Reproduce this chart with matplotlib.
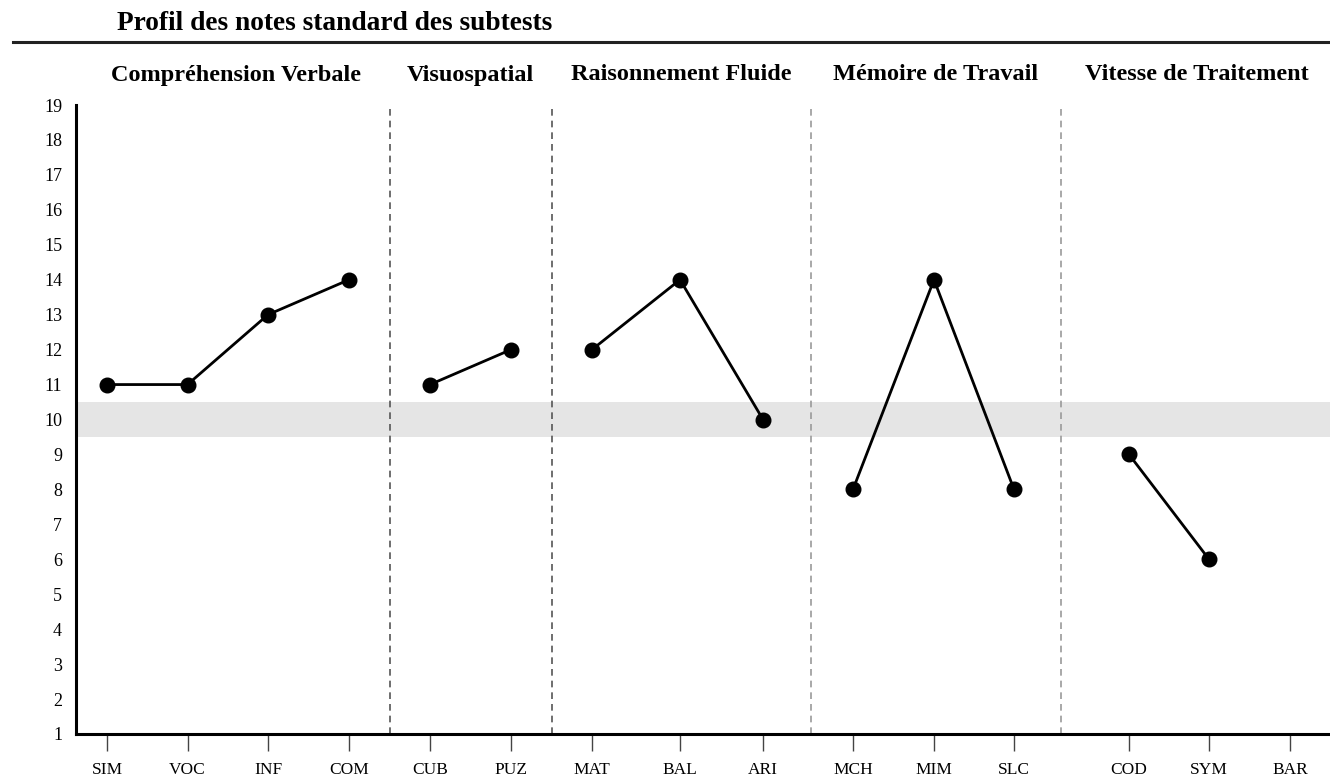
import matplotlib
matplotlib.use("Agg")
import matplotlib.pyplot as plt
import numpy as np

plt.rcParams['font.family'] = ['Liberation Serif', 'DejaVu Serif']

# subtests and scores
subtests = ["SIM", "VOC", "INF", "COM", "CUB", "PUZ", "MAT", "BAL", "ARI",
            "MCH", "MIM", "SLC", "COD", "SYM", "BAR"]
scores = [11, 11, 13, 14, 11, 12, 12, 14, 10, 8, 14, 8, 9, 6, np.nan]
groups = ["Compréhension Verbale", "Visuospatial", "Raisonnement Fluide",
          "Mémoire de Travail", "Vitesse de Traitement"]
group_sizes = [4, 2, 3, 3, 3]

# layout (x positions of each subtest, separators between groups)
xpos = [107, 187.5, 268, 349, 430, 511, 592, 680, 763, 853, 934, 1014, 1129, 1209, 1290]
seps = [390, 551.5, 811, 1061]
sep_colors = ["#555555", "#555555", "#9a9a9a", "#9a9a9a"]
header_x = [236, 470, 681, 936, 1197]

fig = plt.figure(figsize=(13.3, 7.81), dpi=100)
ax = fig.add_axes([76/1330, 1 - 734/781, 1 - 76/1330, (734 - 105)/781])

ax.axhspan(9.5, 10.5, color="#e5e5e5", zorder=0, lw=0)
for s, c in zip(seps, sep_colors):
    ax.axvline(s, color=c, ls=(0, (4, 3)), lw=1.2, zorder=1)

start = 0
for n in group_sizes:
    xs = xpos[start:start + n]
    ys = scores[start:start + n]
    ax.plot(xs, ys, color="black", lw=2, marker="o", ms=10.5, zorder=3)
    start += n

ax.set_xlim(76, 1330)
ax.set_ylim(1, 19)
ax.set_yticks(range(1, 20))
ax.set_xticks(xpos)
ax.set_xticklabels(subtests)
ax.tick_params(axis="y", length=0, labelsize=13, pad=10)
ax.tick_params(axis="x", length=12, width=1, color="#444444", labelsize=12.5, pad=8)
for side in ["top", "right"]:
    ax.spines[side].set_visible(False)
ax.spines["left"].set_linewidth(2.2)
ax.spines["bottom"].set_linewidth(2.2)

for g, hx in zip(groups, header_x):
    fig.text(hx / 1330, 1 - 75/781, g, ha="center", va="center",
             fontsize=17.5, fontweight="bold")

fig.text(117/1330, 1 - 23/781, "Profil des notes standard des subtests",
         ha="left", va="center", fontsize=19.7, fontweight="bold")
fig.add_artist(plt.Line2D([13/1330, 1], [1 - 42/781, 1 - 42/781],
                          color="#222222", lw=2.2, transform=fig.transFigure))

fig.savefig("out.png", dpi=100)
